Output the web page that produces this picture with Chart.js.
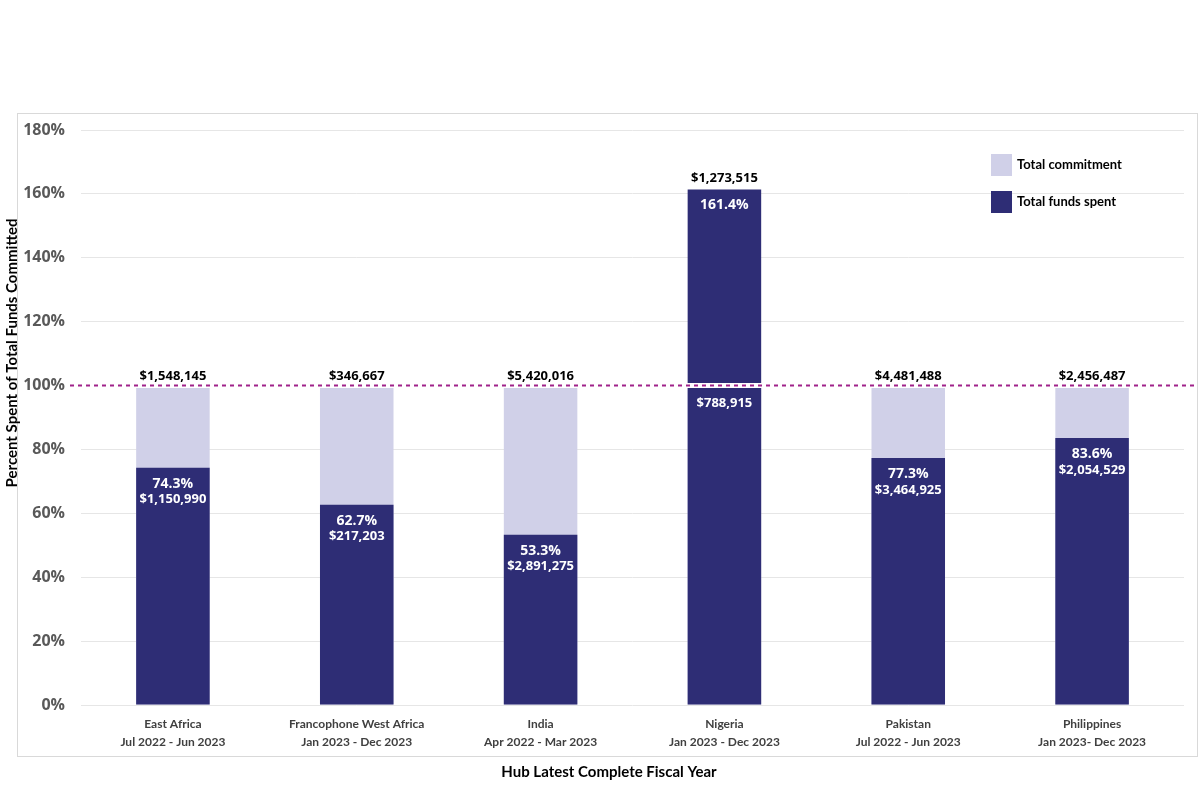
<!DOCTYPE html>
<html>
<head>
<meta charset="utf-8">
<script src="https://cdn.jsdelivr.net/npm/chart.js@4/dist/chart.umd.min.js"></script>
<style>
  html, body { margin: 0; padding: 0; background: #fff; }
  #wrap { width: 1200px; height: 802px; }
</style>
</head>
<body>
<div id="wrap"><canvas id="chart" width="1200" height="802"></canvas></div>
<script>
const hubs = ["East Africa", "Francophone West Africa", "India", "Nigeria", "Pakistan", "Philippines"];
const periods = ["Jul 2022 - Jun 2023", "Jan 2023 - Dec 2023", "Apr 2022 - Mar 2023", "Jan 2023 - Dec 2023", "Jul 2022 - Jun 2023", "Jan 2023- Dec 2023"];
const spentPct = [74.3, 62.7, 53.3, 161.4, 77.3, 83.6];
const commitPct = [100, 100, 100, 100, 100, 100];
const commitAmount = [1548145, 346667, 5420016, 788915, 4481488, 2456487];
const spentAmount = [1150990, 217203, 2891275, 1273515, 3464925, 2054529];
const yTicks = [0, 20, 40, 60, 80, 100, 120, 140, 160, 180];

const DARK = "#2e2d75";
const LIGHT = "#d0d0e8";
const FONT = "Lato, 'Open Sans', sans-serif";
const NUMFONT = "'Open Sans', Lato, sans-serif";

const money = v => "$" + v.toLocaleString("en-US");

const decorations = {
  id: "decorations",
  beforeDraw(chart) {
    const ctx = chart.ctx;
    ctx.save();
    ctx.fillStyle = "#fff";
    ctx.fillRect(0, 0, chart.width, chart.height);
    ctx.strokeStyle = "#d9d9d9";
    ctx.lineWidth = 1;
    ctx.strokeRect(17.5, 113.5, 1180, 643);
    ctx.restore();
  },
  afterDatasetsDraw(chart) {
    const ctx = chart.ctx;
    const y = chart.scales.y;
    const area = chart.chartArea;
    const y100 = y.getPixelForValue(100);

    ctx.save();
    // white band and dashed 100% line
    ctx.strokeStyle = "#fff";
    ctx.lineWidth = 5;
    ctx.beginPath();
    ctx.moveTo(area.left, y100);
    ctx.lineTo(area.right, y100);
    ctx.stroke();
    ctx.strokeStyle = "#a0228a";
    ctx.lineWidth = 2;
    ctx.setLineDash([4, 4]);
    ctx.beginPath();
    ctx.moveTo(70, y100);
    ctx.lineTo(1197, y100);
    ctx.stroke();
    ctx.setLineDash([]);

    // value labels
    const bars = chart.getDatasetMeta(0).data;
    ctx.textAlign = "center";
    ctx.textBaseline = "middle";
    bars.forEach((bar, i) => {
      const x = bar.x;
      if (spentPct[i] > 100) {
        ctx.fillStyle = "#000";
        ctx.font = "bold 13px " + NUMFONT;
        ctx.fillText(money(spentAmount[i]), x, bar.y - 11);
        ctx.fillStyle = "#fff";
        ctx.font = "bold 14px " + NUMFONT;
        ctx.fillText(spentPct[i].toFixed(1) + "%", x, bar.y + 16);
        ctx.font = "bold 13px " + NUMFONT;
        ctx.fillText(money(commitAmount[i]), x, y100 + 18);
      } else {
        ctx.fillStyle = "#000";
        ctx.font = "bold 13px " + NUMFONT;
        ctx.fillText(money(commitAmount[i]), x, y100 - 9);
        ctx.fillStyle = "#fff";
        ctx.font = "bold 14px " + NUMFONT;
        ctx.fillText(spentPct[i].toFixed(1) + "%", x, bar.y + 16);
        ctx.font = "bold 13px " + NUMFONT;
        ctx.fillText(money(spentAmount[i]), x, bar.y + 32);
      }
    });

    // legend
    const items = [["Total commitment", LIGHT], ["Total funds spent", DARK]];
    items.forEach((it, k) => {
      const top = 154 + k * 37;
      ctx.fillStyle = it[1];
      ctx.fillRect(991, top, 21, 22);
      ctx.fillStyle = "#000";
      ctx.textAlign = "left";
      ctx.font = "bold 13px " + FONT;
      ctx.fillText(it[0], 1017, top + 11);
    });

    // axis titles
    ctx.textAlign = "center";
    ctx.font = "bold 15px " + FONT;
    ctx.fillStyle = "#000";
    ctx.fillText("Hub Latest Complete Fiscal Year", 609, 772);
    ctx.translate(12, 353);
    ctx.rotate(-Math.PI / 2);
    ctx.fillText("Percent Spent of Total Funds Committed", 0, 0);
    ctx.restore();
  }
};

new Chart(document.getElementById("chart"), {
  type: "bar",
  data: {
    labels: hubs.map((h, i) => [h, periods[i]]),
    datasets: [
      {
        label: "Total funds spent",
        data: spentPct,
        backgroundColor: DARK,
        grouped: false,
        order: 0,
        barPercentage: 0.4,
        categoryPercentage: 1.0
      },
      {
        label: "Total commitment",
        data: commitPct,
        backgroundColor: LIGHT,
        grouped: false,
        order: 1,
        barPercentage: 0.4,
        categoryPercentage: 1.0
      }
    ]
  },
  options: {
    responsive: false,
    animation: false,
    layout: { padding: { left: 0, right: 16, top: 130, bottom: 0 } },
    plugins: {
      legend: { display: false },
      tooltip: { enabled: false }
    },
    scales: {
      x: {
        grid: { display: false, drawTicks: false },
        border: { display: false },
        ticks: {
          color: "#404040",
          font: { family: FONT, size: 12, weight: "bold", lineHeight: 1.5 },
          padding: 10,
          maxRotation: 0,
          autoSkip: false
        },
        afterFit(scale) { scale.height = 97; }
      },
      y: {
        min: 0,
        max: 180,
        afterBuildTicks(scale) { scale.ticks = yTicks.map(v => ({ value: v })); },
        grid: { color: "#e6e6e6", drawTicks: false },
        border: { display: false },
        ticks: {
          color: "#595959",
          font: { family: NUMFONT, size: 16, weight: "bold" },
          padding: 16,
          callback: v => v + "%"
        },
        afterFit(scale) { scale.width = 81; }
      }
    }
  },
  plugins: [decorations]
});
</script>
</body>
</html>
